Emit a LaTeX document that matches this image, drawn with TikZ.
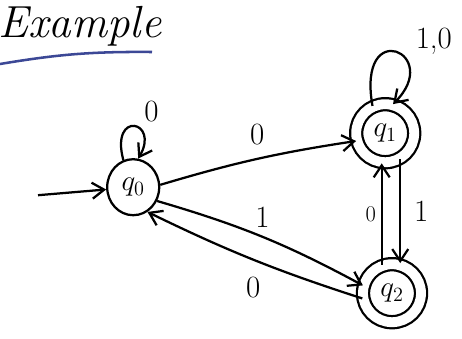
\documentclass[tikz,border=0pt]{standalone}
\usetikzlibrary{arrows.meta,shapes.geometric}
\definecolor{penblue}{RGB}{60,72,150}
\begin{document}
\begin{tikzpicture}[line width=1.6pt,>={Straight Barb[length=3mm,width=4mm]},
  state/.style={draw,ellipse,minimum width=13mm,minimum height=14mm,inner sep=0pt,font=\fontsize{22}{26}\selectfont},
  accept/.style={draw,circle,double,double distance=7pt,minimum size=14.5mm,inner sep=0pt,font=\fontsize{22}{26}\selectfont},
  lbl/.style={font=\fontsize{22}{24}\selectfont}]
\useasboundingbox (0,0) rectangle (11.55,-8.45);
\node[font=\fontsize{32}{32}\selectfont\itshape] (title) at (2.0,-0.65) {Example};
\coordinate (ua) at (0,-1.6);\coordinate (ub) at (3.8,-1.3);
\draw[penblue,line width=1.8pt] (ua) to[bend left=5] (ub);
\node[state] (q0) at (3.33,-4.68) {$q_0$};
\node[accept] (q1) at (9.63,-3.33) {$q_1$};
\node[accept] (q2) at (9.8,-7.33) {$q_2$};
\coordinate (start) at (0.95,-4.88);
\draw[->] (start)--(q0);
\draw[->] (q0.110) .. controls +(105:1.3) and +(60:1.1) .. node[lbl,above right,pos=0.6] {0} (q0.80);
\draw[->] (q1.115) .. controls +(100:2.3) and +(45:1.8) .. node[lbl,above right,pos=0.65,xshift=1mm] {1,0} (q1.75);
\draw[->] (q0.5) to[bend left=4] node[lbl,above,yshift=2mm] {0} (q1.195);
\draw[->] (q0.-30) to[bend left=6] node[lbl,above,yshift=1mm] {1} (q2.165);
\draw[->] (q2.190) to[bend left=4] node[lbl,below,yshift=-3mm] {0} (q0.-60);
\draw[->] (q2.110) -- node[lbl,left,font=\fontsize{16}{18}\selectfont] {0} (q2.110 |- q1.south);
\draw[->] (q1.300) -- node[lbl,right,xshift=2mm] {1} (q1.300 |- q2.north);
\end{tikzpicture}
\end{document}
